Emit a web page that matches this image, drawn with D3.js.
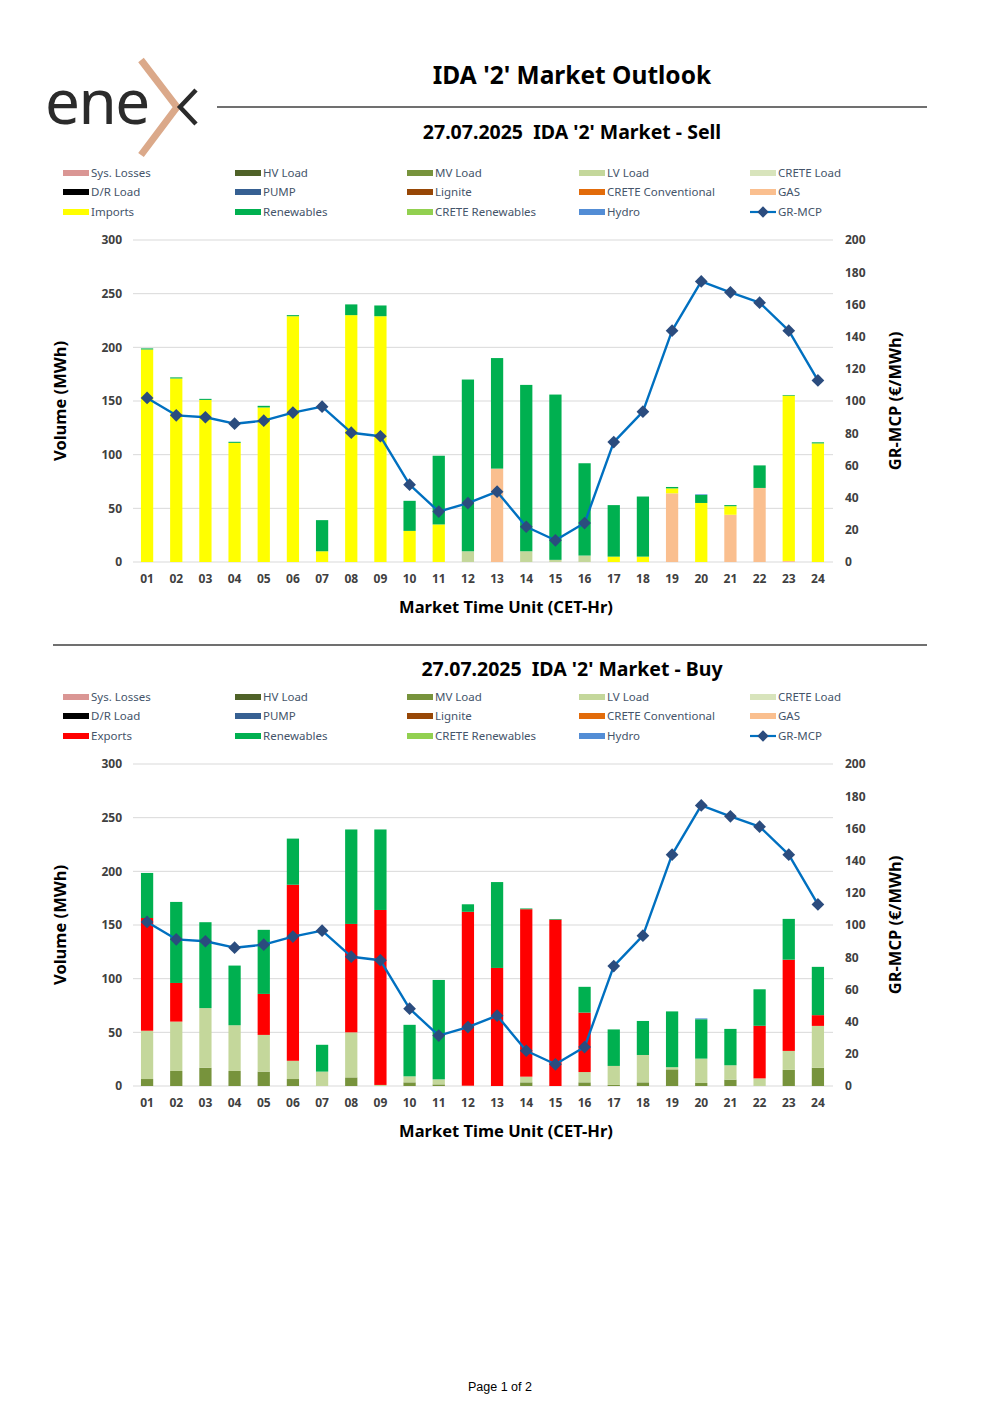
<!DOCTYPE html>
<html>
<head>
<meta charset="utf-8">
<script src="https://cdn.jsdelivr.net/npm/d3@7"></script>
<style>
  body { margin: 0; background: #fff; }
  svg { display: block; font-family: "Noto Sans", "DejaVu Sans", sans-serif; }
  text { white-space: pre; }
</style>
</head>
<body>
<svg id="page" width="1000" height="1415"></svg>
<script>
// market time units
const hours = ['01','02','03','04','05','06','07','08','09','10','11','12',
               '13','14','15','16','17','18','19','20','21','22','23','24'];

// GR-MCP (€/MWh), same for both panels
const mcp = [101.9, 91.1, 89.9, 85.9, 87.8, 92.8, 96.5, 80.3, 78.1, 48.0, 31.3, 36.6,
             43.7, 21.9, 13.5, 24.2, 74.5, 93.4, 143.7, 174.3, 167.5, 161.1, 143.7, 112.8];

// Sell side (MWh)
const sellLV         = [0, 0, 0, 0, 0, 0, 0, 0, 0, 0, 0, 10, 0, 10, 2, 6, 0, 0, 0, 0, 0, 0, 0, 0];
const sellGas        = [0, 0, 0, 0, 0, 0, 0, 0, 0, 0, 0, 0, 87, 0, 0, 0, 0, 0, 64, 0, 44, 69, 1, 0];
const sellImports    = [198, 171, 151, 111, 144, 229, 10, 230, 229, 29, 35, 0, 0, 0, 0, 0, 5, 5, 4.6, 55, 8, 0, 154, 110.5];
const sellRenewables = [1, 1, 1, 1, 1.5, 1, 29, 10, 10, 28, 64, 160, 103, 155, 154, 86, 48, 56, 1.3, 7.5, 1, 21, 0.6, 1];
const sellHydro      = [0, 0, 0, 0, 0, 0, 0, 0, 0, 0, 0, 0, 0, 0, 0, 0, 0, 0, 0, 0.6, 0, 0, 0, 0];

// Buy side (MWh)
const buyMV          = [6.5, 14, 17, 14, 13.4, 6.5, 0, 8, 0, 3.4, 1.5, 0, 0, 3.4, 0, 3.4, 1, 3.4, 15.5, 2.8, 5.9, 0, 15, 17];
const buyLV          = [45, 46, 55.6, 42.6, 34.2, 17, 13.4, 42, 1, 5.6, 4.7, 0.3, 0, 5.3, 0, 9.6, 17.7, 25.5, 2, 22.7, 13.4, 7.1, 17.7, 39];
const buyExports     = [105, 36, 0, 0, 38.2, 164, 0, 101, 163, 0, 0, 162, 110, 156, 155, 55.4, 0, 0, 0, 0, 0, 49, 85, 10];
const buyRenewables  = [42, 75.5, 80, 55.6, 59.7, 43, 25, 88, 75, 48, 92.6, 7, 80, 0.7, 0.6, 24, 34, 31.7, 52, 36.7, 33.9, 34, 38, 45];
const buyHydro       = [0, 0, 0, 0, 0, 0, 0, 0, 0, 0, 0, 0, 0, 0, 0, 0, 0, 0, 0, 0.8, 0, 0, 0, 0];

const volTicks = [0, 50, 100, 150, 200, 250, 300];
const priceTicks = [0, 20, 40, 60, 80, 100, 120, 140, 160, 180, 200];

const colors = {
  'Sys. Losses': '#DA9694', 'HV Load': '#4F6228', 'MV Load': '#77933C', 'LV Load': '#C4D79B',
  'CRETE Load': '#D8E4BC', 'D/R Load': '#000000', 'PUMP': '#366092', 'Lignite': '#974706',
  'CRETE Conventional': '#E26B0A', 'GAS': '#FABF8F', 'Imports': '#FFFF00', 'Exports': '#FF0000',
  'Renewables': '#00B050', 'CRETE Renewables': '#92D050', 'Hydro': '#538DD5'
};
const lineColor = '#0070C0';
const markerColor = '#2B4C7E';

const svg = d3.select('#page');

// ---- header: logo, title ----
const logo = svg.append('g');
logo.append('text')
  .attr('x', 45).attr('y', 124)
  .attr('font-family', '"Noto Sans", sans-serif')
  .attr('font-weight', 400)
  .attr('font-size', 62)
  .attr('fill', '#2b2b2b')
  .attr('letter-spacing', -1.5)
  .text('ene');
logo.append('path')
  .attr('d', 'M141,60 L177,107 L141,155')
  .attr('fill', 'none').attr('stroke', '#DBA98A').attr('stroke-width', 7);
logo.append('path')
  .attr('d', 'M196,90 L180,107 L196,124')
  .attr('fill', 'none').attr('stroke', '#2b2b2b').attr('stroke-width', 4.5);

svg.append('text')
  .attr('x', 572).attr('y', 84)
  .attr('text-anchor', 'middle')
  .attr('font-weight', 'bold').attr('font-size', 24.5)
  .text("IDA '2' Market Outlook");
svg.append('line')
  .attr('x1', 217).attr('x2', 927).attr('y1', 107).attr('y2', 107)
  .attr('stroke', '#404040').attr('stroke-width', 1.3);
svg.append('line')
  .attr('x1', 53).attr('x2', 927).attr('y1', 645).attr('y2', 645)
  .attr('stroke', '#404040').attr('stroke-width', 1.3);

svg.append('text')
  .attr('x', 500).attr('y', 1391)
  .attr('text-anchor', 'middle')
  .attr('font-family', '"Liberation Sans", Arial, sans-serif')
  .attr('font-size', 12.5)
  .text('Page 1 of 2');

// ---- a panel: subtitle + legend + combo chart ----
function drawPanel(top, subtitleY, subtitle, flowName, keys, series) {
  svg.append('text')
    .attr('x', 572).attr('y', subtitleY)
    .attr('text-anchor', 'middle')
    .attr('font-weight', 'bold').attr('font-size', 19.5)
    .text(subtitle);

  const g = svg.append('g').attr('transform', `translate(0,${top})`);

  // legend
  const legendItems = [
    'Sys. Losses', 'HV Load', 'MV Load', 'LV Load', 'CRETE Load',
    'D/R Load', 'PUMP', 'Lignite', 'CRETE Conventional', 'GAS',
    flowName, 'Renewables', 'CRETE Renewables', 'Hydro', 'GR-MCP'
  ];
  const colX = [63, 235, 407, 579, 750];
  const rowY = [173, 192, 212];
  legendItems.forEach((name, i) => {
    const x = colX[i % 5], y = rowY[Math.floor(i / 5)];
    if (name === 'GR-MCP') {
      g.append('line').attr('x1', x).attr('x2', x + 26).attr('y1', y).attr('y2', y)
        .attr('stroke', lineColor).attr('stroke-width', 2.2);
      g.append('rect').attr('x', -4).attr('y', -4).attr('width', 8).attr('height', 8)
        .attr('transform', `translate(${x + 13},${y}) rotate(45)`)
        .attr('fill', markerColor);
    } else {
      g.append('rect').attr('x', x).attr('y', y - 3).attr('width', 26).attr('height', 6)
        .attr('fill', colors[name]);
    }
    g.append('text')
      .attr('x', x + 28).attr('y', y + 4)
      .attr('font-size', 11.5).attr('fill', '#44546A')
      .text(name);
  });

  // scales
  const x = d3.scaleBand().domain(hours).range([132.5, 832.5])
    .paddingInner(0.58).paddingOuter(0.29);
  const y = d3.scaleLinear().domain([0, 300]).range([562, 240]);
  const y2 = d3.scaleLinear().domain([0, 200]).range([562, 240]);

  // gridlines
  g.append('g').selectAll('line').data(volTicks).join('line')
    .attr('x1', 133).attr('x2', 833)
    .attr('y1', d => y(d)).attr('y2', d => y(d))
    .attr('stroke', '#D9D9D9').attr('stroke-width', 1);

  // axes
  const yAxis = g.append('g').attr('transform', 'translate(122,0)')
    .call(d3.axisLeft(y).tickValues(volTicks).tickSize(0).tickPadding(0));
  const y2Axis = g.append('g').attr('transform', 'translate(845,0)')
    .call(d3.axisRight(y2).tickValues(priceTicks).tickSize(0).tickPadding(0));
  const xAxis = g.append('g').attr('transform', 'translate(0,574)')
    .call(d3.axisBottom(x).tickSize(0).tickPadding(0));
  [yAxis, y2Axis, xAxis].forEach(a => {
    a.select('.domain').remove();
    a.selectAll('text')
      .attr('font-family', '"Noto Sans", sans-serif')
      .attr('font-size', 12).attr('font-weight', 'bold').attr('fill', '#404040');
  });
  xAxis.selectAll('text').attr('dy', '0.75em');

  // stacked bars
  const rows = hours.map((h, i) => {
    const r = { hour: h };
    keys.forEach((k, j) => { r[k] = series[j][i]; });
    return r;
  });
  const stacked = d3.stack().keys(keys)(rows);
  g.append('g').selectAll('g').data(stacked).join('g')
    .attr('fill', d => colors[d.key])
    .selectAll('rect').data(d => d).join('rect')
    .attr('x', d => x(d.data.hour))
    .attr('width', x.bandwidth())
    .attr('y', d => y(d[1]))
    .attr('height', d => Math.max(0, y(d[0]) - y(d[1])));

  // price line
  const cx = h => x(h) + x.bandwidth() / 2;
  g.append('path')
    .datum(mcp)
    .attr('fill', 'none').attr('stroke', lineColor).attr('stroke-width', 2.4)
    .attr('stroke-linejoin', 'round')
    .attr('d', d3.line().x((d, i) => cx(hours[i])).y(d => y2(d)));
  g.append('g').selectAll('rect').data(mcp).join('rect')
    .attr('x', -4.5).attr('y', -4.5).attr('width', 9).attr('height', 9)
    .attr('transform', (d, i) => `translate(${cx(hours[i])},${y2(d)}) rotate(45)`)
    .attr('fill', markerColor);

  // axis titles
  g.append('text')
    .attr('transform', 'translate(66,401) rotate(-90)')
    .attr('text-anchor', 'middle')
    .attr('font-weight', 'bold').attr('font-size', 16.5)
    .text('Volume (MWh)');
  g.append('text')
    .attr('transform', 'translate(901,401) rotate(-90)')
    .attr('text-anchor', 'middle')
    .attr('font-weight', 'bold').attr('font-size', 16.5)
    .text('GR-MCP (€/MWh)');
  g.append('text')
    .attr('x', 506).attr('y', 613)
    .attr('text-anchor', 'middle')
    .attr('font-weight', 'bold').attr('font-size', 16.5)
    .text('Market Time Unit (CET-Hr)');
}

drawPanel(0, 139, "27.07.2025  IDA '2' Market - Sell", 'Imports',
  ['LV Load', 'GAS', 'Imports', 'Renewables', 'Hydro'],
  [sellLV, sellGas, sellImports, sellRenewables, sellHydro]);

drawPanel(524, 676, "27.07.2025  IDA '2' Market - Buy", 'Exports',
  ['MV Load', 'LV Load', 'Exports', 'Renewables', 'Hydro'],
  [buyMV, buyLV, buyExports, buyRenewables, buyHydro]);
</script>
</body>
</html>
